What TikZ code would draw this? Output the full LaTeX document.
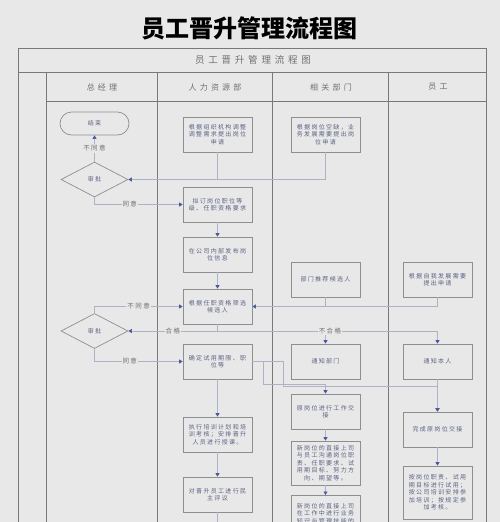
\documentclass[tikz,border=0pt]{standalone}
\usepackage{fontspec}
\setmainfont{Noto Sans CJK SC}
\newfontfamily\boxf[LetterSpace=22]{Noto Sans CJK SC}
\newfontfamily\headf[LetterSpace=40]{Noto Sans CJK SC}
\usetikzlibrary{shapes.geometric,arrows.meta}
\definecolor{bg}{HTML}{E8E8E8}
\definecolor{tablecol}{HTML}{787878}
\definecolor{bordercol}{HTML}{8E8E8E}
\definecolor{btext}{HTML}{5C6282}
\definecolor{conncol}{HTML}{AEB2C4}
\definecolor{arrcol}{HTML}{4A5A9C}
\definecolor{ltext}{HTML}{707070}
\tikzset{
  box/.style={draw=bordercol, line width=0.7pt, fill=bg, minimum width=69pt, minimum height=35pt,
    inner sep=1pt, align=center, text=btext, font=\boxf\fontsize{6}{7.5}\selectfont},
  term/.style={box, rounded corners=11.5pt, minimum height=23pt},
  dia/.style={diamond, draw=bordercol, line width=0.7pt, fill=bg, minimum width=67pt,
    minimum height=35pt, inner sep=0pt, text=btext, font=\boxf\fontsize{6}{7.5}\selectfont},
  conn/.style={draw=conncol, line width=0.6pt},
  flow/.style={conn, -{Triangle[length=3.5pt,width=4pt,color=arrcol]}},
  lab/.style={fill=bg, inner sep=1pt, text=ltext, font=\boxf\fontsize{6.5}{7}\selectfont},
  tline/.style={draw=tablecol, line width=1pt},
  head/.style={text=ltext, font=\headf\fontsize{8}{9}\selectfont},
}
\begin{document}
\begin{tikzpicture}[x=1pt,y=-1pt]
\useasboundingbox (0,0) rectangle (500,522);
\fill[bg] (0,0) rectangle (500,522);
\begin{scope}
\clip (0,0) rectangle (500,522);
% title
\node[font=\bfseries\fontsize{24}{26}\selectfont, text=black] (title) at (249,28) {员工晋升管理流程图};
% table
\draw[tline] (18,530) -- (18,48) -- (486,48) -- (486,530);
\draw[tline] (18,72) -- (486,72);
\draw[tline] (46,101) -- (486,101);
\foreach \x in {46,157,272,388} \draw[tline] (\x,72) -- (\x,530);
\node[head, font=\headf\fontsize{9.5}{10}\selectfont] (ttl) at (253,60) {员工晋升管理流程图};
\node[head] (h1) at (102,87) {总经理};
\node[head] (h2) at (215,87) {人力资源部};
\node[head] (h3) at (331,87) {相关部门};
\node[head] (h4) at (438,87) {员工};
% nodes
\node[term] (t1) at (94.5,123.5) {结束};
\node[dia] (d1) at (94.5,179.5) {审批};
\node[dia] (d2) at (94.5,331) {审批};
\node[box] (b1) at (217.5,134.5) {根据组织机构调整\\调整需求提出岗位\\申请};
\node[box] (b2) at (217.5,204.5) {拟订岗位职位等\\级、任职资格要求};
\node[box] (b3) at (217.5,254.5) {在公司内部发布岗\\位信息};
\node[box] (b4) at (217.5,306.5) {根据任职资格筛选\\候选人};
\node[box] (b5) at (217.5,361.5) {确定试用期限、职\\位等};
\node[box] (g1) at (217.5,434.5) {执行培训计划和培\\训考核；安排晋升\\人员进行授课。};
\node[box] (g2) at (217.5,494.5) {对晋升员工进行民\\主评议};
\node[box] (r1) at (325.5,134.5) {根据岗位空缺，业\\务发展需要提出岗\\位申请};
\node[box] (r2) at (325.5,279.5) {部门推荐候选人};
\node[box] (n1) at (325.5,361.5) {通知部门};
\node[box] (n3) at (325.5,411.5) {原岗位进行工作交\\接};
\node[box, minimum height=44pt] (n4) at (325.5,463) {新岗位的直接上司\\与员工沟通岗位职\\责、任职要求、试\\用期目标、努力方\\向、期望等。};
\node[box, minimum height=44pt, anchor=north] (n5) at (325.5,495) {新岗位的直接上司\\在工作中进行业务\\知识与管理技能的\\指导};
\node[box] (e1) at (437.5,279.5) {根据自我发展需要\\提出申请};
\node[box] (n2) at (437.5,361.5) {通知本人};
\node[box] (c1) at (437.5,429.5) {完成原岗位交接};
\node[box, minimum height=53pt] (c2) at (437.5,492.5) {按岗位职责、试用\\期目标进行试用；\\按公司培训安排参\\加培训；按规定参\\加考核。};
% connectors
\draw[flow] (d1.north) -- node[lab]{不同意} (t1.south);
\draw[conn] (r1.south) |- (b1.south |- d1.east);
\draw[flow] (b1.south) |- (d1.east);
\draw[flow] (d1.south) |- node[lab,pos=0.7]{同意} (b2.west);
\draw[flow] (b2.south) -- (b3.north);
\draw[flow] (b3.south) -- (b4.north);
\draw[flow] (d2.north) |- node[lab,pos=0.75]{不同意} (b4.west);
\coordinate (j1) at (b4.south |- d2.east);
\draw[flow] (j1) -| (n2.north);
\draw[flow] (j1) -| (n1.north);
\draw[flow] (b4.south) |- node[lab,pos=0.75]{合格} (d2.east);
\node[lab] (lbf) at (330,331) {不合格};
\draw[flow] (d2.south) |- node[lab,pos=0.7]{同意} (b5.west);
\draw[conn] (r2.south) |- (b4.east);
\draw[flow] (e1.south) |- (b4.east);
\coordinate (k1) at (263,384);
\coordinate (k2) at (283,386);
\draw[flow] (b5.east) -| (k1) -| (n3.north);
\draw[flow] (b5.east) -| (k2) -| (c1.north);
\draw[flow] (n2.south) -- (c1.north);
\draw[flow] (b5.south) -- (g1.north);
\draw[flow] (g1.south) -- (g2.north);
\coordinate (gend) at (217.5,530);
\draw[conn] (g2.south) -- (gend);
\draw[flow] (n3.south) -- (n4.north);
\draw[flow] (n4.south) -- (n5.north);
\draw[flow] (c1.south) -- (c2.north);
\end{scope}
\end{tikzpicture}
\end{document}
